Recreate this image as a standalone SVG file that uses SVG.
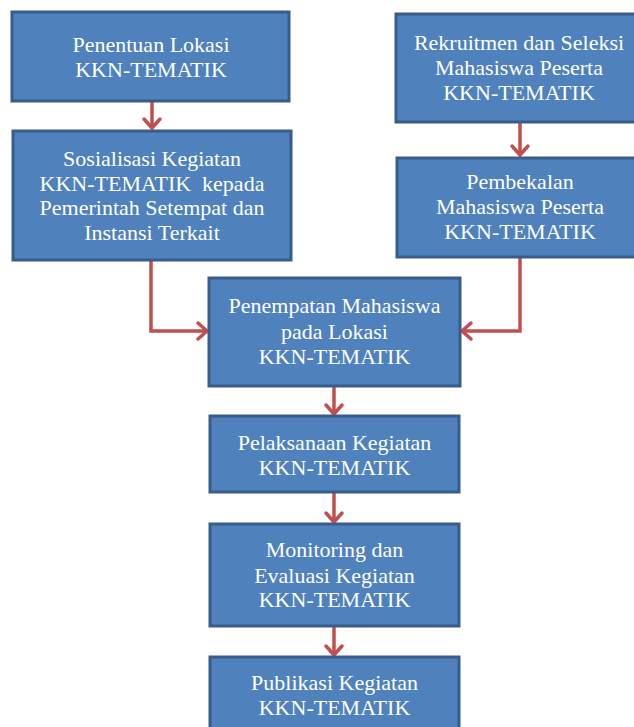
<svg xmlns="http://www.w3.org/2000/svg" width="634" height="727" viewBox="0 0 634 727">
<style>
.box{fill:#4F81BD;stroke:#385D8A;stroke-width:3}
.t{font-family:"Liberation Serif","Times New Roman",serif;font-size:22px;fill:#FFFFFF;text-anchor:middle}
.c{fill:none;stroke:#C0504D;stroke-width:3.5;stroke-linejoin:miter}
</style>
<defs>
<marker id="ah" markerUnits="userSpaceOnUse" viewBox="-12 -10 14 20" refX="0" refY="0" markerWidth="14" markerHeight="20" orient="auto" overflow="visible">
<path d="M-9,-8 L0,0 L-9,8" fill="none" stroke="#C0504D" stroke-width="3.5" stroke-linecap="round" stroke-linejoin="miter"/>
</marker>
</defs>
<rect width="634" height="727" fill="#FFFFFF"/>
<g id="connectors">
<path class="c" d="M152,101 V128" marker-end="url(#ah)"/>
<path class="c" d="M520,122 V155" marker-end="url(#ah)"/>
<path class="c" d="M151,260 V331 H207" marker-end="url(#ah)"/>
<path class="c" d="M520,257 V331 H462" marker-end="url(#ah)"/>
<path class="c" d="M334,386 V414" marker-end="url(#ah)"/>
<path class="c" d="M334,492 V522" marker-end="url(#ah)"/>
<path class="c" d="M334,626 V655" marker-end="url(#ah)"/>
</g>
<g id="n1">
<rect class="box" x="12" y="12" width="277" height="89"/>
<text class="t" x="151" y="52">Penentuan Lokasi</text>
<text class="t" x="151" y="77">KKN-TEMATIK</text>
</g>
<g id="n2">
<rect class="box" x="13" y="131" width="278" height="129"/>
<text class="t" x="152" y="166">Sosialisasi Kegiatan</text>
<text class="t" x="152" y="191" xml:space="preserve">KKN-TEMATIK  kepada</text>
<text class="t" x="152" y="215">Pemerintah Setempat dan</text>
<text class="t" x="152" y="240">Instansi Terkait</text>
</g>
<g id="n3">
<rect class="box" x="396" y="14" width="250" height="108"/>
<text class="t" x="519" y="50">Rekruitmen dan Seleksi</text>
<text class="t" x="519" y="75">Mahasiswa Peserta</text>
<text class="t" x="519" y="100">KKN-TEMATIK</text>
</g>
<g id="n4">
<rect class="box" x="397" y="158" width="250" height="99"/>
<text class="t" x="520" y="189">Pembekalan</text>
<text class="t" x="520" y="214">Mahasiswa Peserta</text>
<text class="t" x="520" y="239">KKN-TEMATIK</text>
</g>
<g id="n5">
<rect class="box" x="209" y="278" width="251" height="108"/>
<text class="t" x="334.5" y="313">Penempatan Mahasiswa</text>
<text class="t" x="334.5" y="339">pada Lokasi</text>
<text class="t" x="334.5" y="364">KKN-TEMATIK</text>
</g>
<g id="n6">
<rect class="box" x="210" y="416" width="249" height="76"/>
<text class="t" x="334.5" y="450">Pelaksanaan Kegiatan</text>
<text class="t" x="334.5" y="475">KKN-TEMATIK</text>
</g>
<g id="n7">
<rect class="box" x="210" y="524" width="249" height="102"/>
<text class="t" x="334.5" y="557">Monitoring dan</text>
<text class="t" x="334.5" y="583">Evaluasi Kegiatan</text>
<text class="t" x="334.5" y="607">KKN-TEMATIK</text>
</g>
<g id="n8">
<rect class="box" x="210" y="657" width="249" height="90"/>
<text class="t" x="334.5" y="690">Publikasi Kegiatan</text>
<text class="t" x="334.5" y="715">KKN-TEMATIK</text>
</g>
</svg>
